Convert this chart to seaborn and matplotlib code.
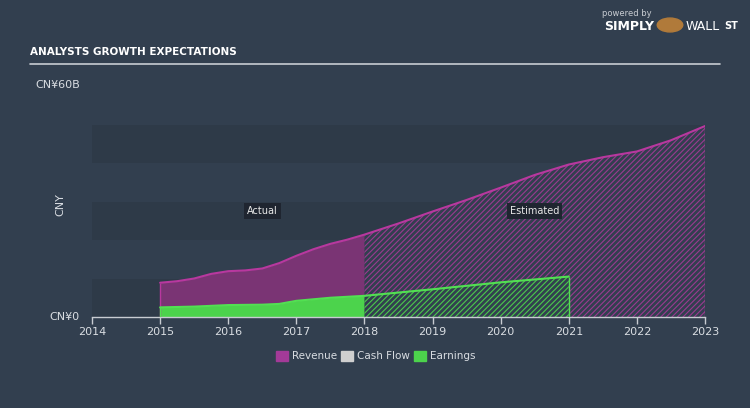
import matplotlib
matplotlib.use("Agg")
import matplotlib.pyplot as plt
import seaborn as sns
import numpy as np
import pandas as pd

# ---- data (CNY billions) ----
rev_years = [2015.0, 2015.25, 2015.5, 2015.75, 2016.0, 2016.25, 2016.5, 2016.75, 2017.0, 2017.25, 2017.5, 2017.75, 2018.0,
             2018.5, 2019.0, 2019.5, 2020.0, 2020.5, 2021.0, 2021.5, 2022.0, 2022.5, 2023.0]
rev_values = [8.9, 9.3, 10.0, 11.2, 11.9, 12.1, 12.6, 14.0, 15.9, 17.6, 19.0, 20.1, 21.4,
              24.3, 27.4, 30.4, 33.6, 36.9, 39.6, 41.5, 43.0, 45.9, 49.6]
earn_years = [2015.0, 2015.5, 2016.0, 2016.5, 2016.75, 2017.0, 2017.5, 2018.0, 2019.0, 2020.0, 2021.0]
earn_values = [2.5, 2.7, 3.1, 3.2, 3.4, 4.2, 5.0, 5.5, 7.2, 9.0, 10.5]
split_year = 2018.0
x_ticks = [2014, 2015, 2016, 2017, 2018, 2019, 2020, 2021, 2022, 2023]
legend_labels = ["Revenue", "Cash Flow", "Earnings"]

BG = "#323f4f"
BAND = "#2e3a48"
REV_FILL = "#7a3474"
REV_LINE = "#b8389f"
EARN_FILL = "#4cd34c"
EARN_LINE = "#52e052"
CF = "#cfcfcf"
TXT = "#d9dde2"

sns.set_theme(style="dark")
plt.rcParams['font.family'] = ['DejaVu Sans']
plt.rcParams['hatch.linewidth'] = 0.8

fig = plt.figure(figsize=(7.5, 4.08), dpi=100, facecolor=BG)
ax = fig.add_axes([92/750, 1-317/408, (705-92)/750, (317-86)/408])
ax.set_facecolor(BG)

for lo in (0, 20, 40):
    ax.axhspan(lo, lo + 10, color=BAND, lw=0, zorder=0)

rev = pd.DataFrame({"year": rev_years, "value": rev_values})
earn = pd.DataFrame({"year": earn_years, "value": earn_values})

def area(df, fill, line, hatch_col):
    a = df[df.year <= split_year]
    e = df[df.year >= split_year]
    ax.fill_between(a.year, 0, a.value, color=fill, lw=0, zorder=2)
    if len(e) > 1:
        ax.fill_between(e.year, 0, e.value, facecolor=BG, edgecolor=hatch_col,
                        hatch="//////", lw=0, zorder=2)
    sns.lineplot(data=df, x="year", y="value", ax=ax, color=line, lw=1.5, zorder=3)
    ax.vlines(df.year.iloc[0], 0, df.value.iloc[0], color=line, lw=1, zorder=3)
    ax.vlines(df.year.iloc[-1], 0, df.value.iloc[-1], color=line, lw=1, zorder=3)

area(rev, REV_FILL, REV_LINE, "#9a3a90")
area(earn, EARN_FILL, EARN_LINE, "#4cc84c")

ax.set_xlim(2014, 2023)
ax.set_ylim(0, 60)
ax.set_xticks(x_ticks)
ax.set_xticklabels([str(t) for t in x_ticks], color=TXT, fontsize=8)
ax.set_yticks([])
ax.set_xlabel("")
ax.set_ylabel("")
for s in ("top", "right", "left"):
    ax.spines[s].set_visible(False)
ax.spines["bottom"].set_color("#c8ccd2")
ax.spines["bottom"].set_linewidth(1)
ax.tick_params(axis="x", length=5, width=1, color="#c8ccd2", pad=2, bottom=True, direction="out")

# y labels
ax.text(-0.02, 0, "CN¥0", transform=ax.get_yaxis_transform(), ha="right", va="center", color=TXT, fontsize=8)
fig.text(80/750, 1-85/408, "CN¥60B", ha="right", va="center", color=TXT, fontsize=8)
fig.text(60/750, 1-205/408, "CNY", rotation=90, ha="center", va="center", color=TXT, fontsize=8)

# annotations
ax.text(2016.5, 27.5, "Actual", ha="center", va="center", color="#e8e8e8", fontsize=7,
        bbox=dict(boxstyle="square,pad=0.3", fc="#1f2530", ec="none"), zorder=5)
ax.text(2020.5, 27.5, "Estimated", ha="center", va="center", color="#e8e8e8", fontsize=7,
        bbox=dict(boxstyle="square,pad=0.3", fc="#1f2530", ec="none"), zorder=5)

# title
fig.text(30/750, 1-52/408, "ANALYSTS GROWTH EXPECTATIONS", ha="left", va="center", color="white",
         fontsize=7.5, fontweight="bold", family="DejaVu Sans")
fig.add_artist(plt.Line2D([30/750, 720/750], [1-64/408, 1-64/408], color="#c8ccd2", lw=1.2))

# logo text
fig.text(652/750, 1-14/408, "powered by", ha="right", va="center", color="#c8ccd2", fontsize=6)
fig.text(654/750, 1-27/408, "SIMPLY", ha="right", va="center", color="white", fontsize=9, fontweight="bold")
fig.text(686/750, 1-27/408, "WALL", ha="left", va="center", color="white", fontsize=9)
fig.text(724/750, 1-26/408, "ST", ha="left", va="center", color="white", fontsize=7, fontweight="bold")
fig.add_artist(plt.Circle((670/750, 1-25/408), 0.017, transform=fig.transFigure, color="#b07a3a"))

# legend
lx = [276, 341, 414]
cols = ["#a33a98", CF, EARN_FILL]
for x, c, lab in zip(lx, cols, legend_labels):
    fig.patches.append(plt.Rectangle((x/750, 1-361/408), 12/750, 10/408, transform=fig.transFigure, color=c))
    fig.text((x + 16)/750, 1-356/408, lab, ha="left", va="center", color=TXT, fontsize=7.5)

fig.savefig("out.png", dpi=100, facecolor=BG)
